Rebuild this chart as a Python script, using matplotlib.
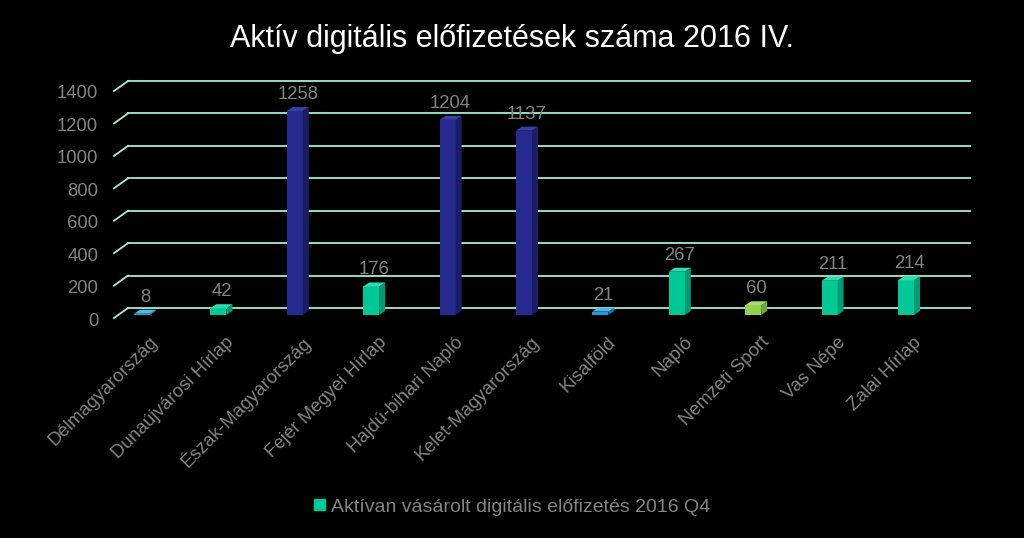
import matplotlib
matplotlib.use('Agg')
import matplotlib.pyplot as plt
import matplotlib.transforms as mtransforms
from matplotlib.patches import Patch

plt.rcParams['font.family'] = ['Liberation Sans', 'DejaVu Sans']

# data
papers = ['Délmagyarország', 'Dunaújvárosi Hírlap', 'Észak-Magyarország', 'Fejér Megyei Hírlap',
          'Hajdú-bihari Napló', 'Kelet-Magyarország', 'Kisalföld', 'Napló', 'Nemzeti Sport',
          'Vas Népe', 'Zalai Hírlap']
subs = [8, 42, 1258, 176, 1204, 1137, 21, 267, 60, 211, 214]
front_cols = ['#1b9fd9', '#00c996', '#262a8f', '#00c996', '#262a8f', '#262a8f',
              '#1b9fd9', '#00c996', '#92d050', '#00c996', '#00c996']
side_cols = ['#137aa8', '#009c74', '#1a1d66', '#009c74', '#1a1d66', '#1a1d66',
             '#137aa8', '#009c74', '#6fa83a', '#009c74', '#009c74']
top_cols = ['#4fb8e6', '#2fdcae', '#3a3fa8', '#2fdcae', '#3a3fa8', '#3a3fa8',
            '#4fb8e6', '#2fdcae', '#a8de70', '#2fdcae', '#2fdcae']
yticks = [0, 200, 400, 600, 800, 1000, 1200, 1400]
legend_label = 'Aktívan vásárolt digitális előfizetés 2016 Q4'

grey = '#838383'
grid_col = '#a3f0d2'

fig = plt.figure(figsize=(10.24, 5.38), dpi=100, facecolor='black')
# axes placed in pixels: x -0.5..10.5 -> 104..944 px, y 0..1400 -> 315..88 px
ax = fig.add_axes([103.8 / 1024, (538 - 315) / 538, 840.4 / 1024, 227 / 538])
ax.set_facecolor('black')
ax.set_xlim(-0.5, 10.5)
ax.set_ylim(0, 1400)

px_x = 11 / 840.4      # data units per pixel, x
px_y = 1400 / 227      # data units per pixel, y

# back wall grid lines with the perspective slant at the left
for v in yticks:
    yb = v + 7 * px_y
    ax.plot([-14 / 76.4, 10.84], [yb, yb], color=grid_col, lw=1.3,
            zorder=1, clip_on=False)
    ax.plot([-28 / 76.4, -14 / 76.4], [yb - 10 * px_y, yb], color=grid_col, lw=1.3,
            zorder=1, clip_on=False)

# 3d-looking bars
w = 16 * px_x
dx = 6 * px_x
dy = 4 * px_y
for i, v in enumerate(subs):
    ax.bar(i, v, width=w, color=front_cols[i], zorder=3)
    r = i + w / 2
    l = i - w / 2
    ax.fill([r, r + dx, r + dx, r], [0, dy, v + dy, v], color=side_cols[i], zorder=3, lw=0)
    ax.fill([l, r, r + dx, l + dx], [v, v, v + dy, v + dy], color=top_cols[i], zorder=3, lw=0)
    ax.text(i + dx / 2, v + dy + 4 * px_y, str(v), ha='center', va='bottom',
            color=grey, fontsize=13.3, zorder=4)

for s in ax.spines.values():
    s.set_visible(False)

ax.set_yticks(yticks)
ax.set_yticklabels([str(t) for t in yticks], color=grey, fontsize=13.3)
ax.tick_params(axis='y', length=0, pad=4)
shift_y = mtransforms.ScaledTranslation(0, -0.04, fig.dpi_scale_trans)
for lab in ax.get_yticklabels():
    lab.set_transform(lab.get_transform() + shift_y)

ax.set_xticks(range(len(papers)))
ax.set_xticklabels(papers, rotation=45, ha='right', va='center',
                   rotation_mode='anchor', color=grey, fontsize=13.5)
ax.tick_params(axis='x', length=0, pad=20)
shift_x = mtransforms.ScaledTranslation(0.13, 0.03, fig.dpi_scale_trans)
for lab in ax.get_xticklabels():
    lab.set_transform(lab.get_transform() + shift_x)

fig.text(0.5, 1 - 39 / 538, 'Aktív digitális előfizetések száma 2016 IV.',
         ha='center', va='center', color='white', fontsize=22)

fig.legend(handles=[Patch(color='#00c996')], labels=[legend_label],
           loc='center', bbox_to_anchor=(0.5, (538 - 507) / 538), frameon=False,
           labelcolor=grey, fontsize=14, handlelength=0.55, handleheight=0.45,
           handletextpad=0.3)

fig.savefig('out.png', dpi=100, facecolor='black')
